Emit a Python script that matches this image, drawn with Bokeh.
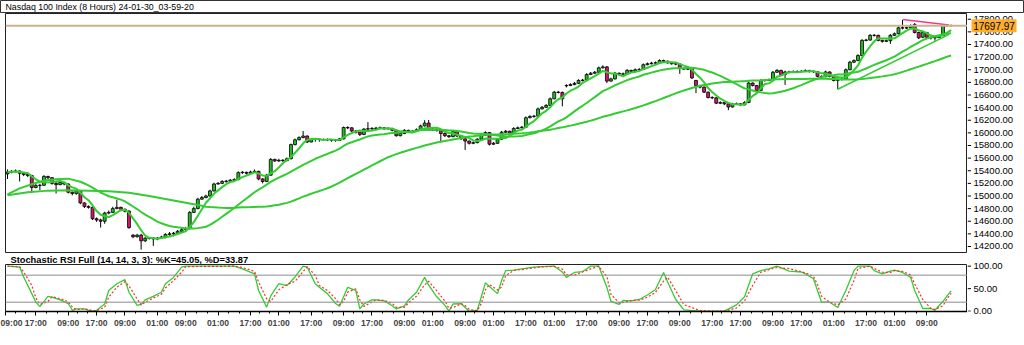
import pandas as pd
from bokeh.plotting import figure
from bokeh.layouts import column, row
from bokeh.models import (ColumnDataSource, FixedTicker, NumeralTickFormatter,
                          Span, Range1d)
from bokeh.core.properties import value
from bokeh.embed import file_html
from bokeh.resources import INLINE

# ---------------- data ----------------
chart_title = "Nasdaq 100 Index (8 Hours) 24-01-30_03-59-20"
stoch_title = "Stochastic RSI Full (14, 14, 3, 3): %K=45.05, %D=33.87"
last_price = 17697.97

opens = [
    15350, 15380, 15390, 15395, 15360, 15340, 15325, 15135, 15165, 15170,
    15310, 15290, 15200, 15180, 15215, 15190, 15060, 15040, 15080, 14890,
    14835, 14820, 14640, 14620, 14600, 14730, 14740, 14800, 14820, 14790,
    14760, 14380, 14355, 14380, 14290, 14330, 14335, 14320, 14330, 14350,
    14390, 14400, 14410, 14440, 14465, 14485, 14740, 14800, 14950, 14975,
    15000, 15080, 15190, 15200, 15230, 15235, 15250, 15260, 15370, 15375,
    15360, 15380, 15390, 15270, 15230, 15330, 15580, 15555, 15565, 15560,
    15590, 15815, 15890, 15925, 15950, 15855, 15895, 15900, 15895, 15895,
    15890, 15885, 15880, 15905, 16085, 16080, 16030, 16010, 15975, 16060,
    16065, 16070, 16075, 16080, 16065, 16070, 16040, 15955, 15990, 16040,
    16020, 16025, 16050, 16110, 16155, 16040, 16060, 16040, 15990, 15955,
    15940, 16020, 15950, 15905, 15870, 15835, 15845, 15900, 15965, 16005,
    15820, 15835, 15900, 16010, 16025, 15995, 16070, 16080, 16090, 16240,
    16260, 16265, 16380, 16405, 16435, 16540, 16645, 16640, 16745, 16750,
    16765, 16785, 16830, 16835, 16925, 16945, 16960, 17030, 17045, 16820,
    16855, 16945, 16930, 16935, 16990, 16975, 17000, 17005, 17080, 17095,
    17105, 17110, 17145, 17135, 17110, 17095, 17090, 17020, 17010, 17015,
    16830, 16750, 16725, 16645, 16560, 16555, 16470, 16480, 16460, 16410,
    16455, 16460, 16445, 16480, 16790, 16750, 16670, 16830, 16830, 16840,
    16960, 16990, 16925, 16965, 16965, 16970, 16970, 16975, 16985, 16975,
    16970, 16895, 16890, 16965, 16895, 16830, 16845, 16850, 17000, 17120,
    17145, 17225, 17465, 17470, 17545, 17545, 17465, 17450, 17460, 17545,
    17570, 17665, 17660, 17665, 17715, 17590, 17515, 17590, 17515, 17505,
    17510, 17540, 17700, 17700,
]
highs = [
    15420, 15410, 15420, 15405, 15370, 15350, 15335, 15190, 15195, 15330,
    15320, 15300, 15230, 15240, 15225, 15200, 15070, 15100, 15090, 14900,
    14850, 14830, 14660, 14640, 14750, 14770, 14830, 14940, 14830, 14800,
    14775, 14395, 14400, 14400, 14350, 14350, 14345, 14350, 14370, 14410,
    14430, 14430, 14460, 14490, 14510, 14760, 14830, 14970, 15000, 15020,
    15100, 15210, 15220, 15250, 15255, 15270, 15280, 15390, 15395, 15385,
    15400, 15420, 15400, 15280, 15350, 15600, 15590, 15590, 15585, 15610,
    15830, 15910, 15945, 16030, 15960, 15910, 15915, 15910, 15910, 15910,
    15905, 15900, 15920, 16100, 16105, 16090, 16040, 16015, 16075, 16170,
    16090, 16095, 16100, 16090, 16090, 16080, 16050, 16005, 16060, 16050,
    16045, 16070, 16130, 16200, 16205, 16080, 16070, 16050, 16000, 15965,
    16040, 16030, 15960, 15915, 15880, 15865, 15915, 15985, 16025, 16015,
    15855, 15920, 16030, 16045, 16035, 16090, 16100, 16110, 16260, 16280,
    16285, 16400, 16425, 16455, 16560, 16665, 16665, 16655, 16770, 16785,
    16805, 16850, 16855, 16945, 16965, 16980, 17050, 17070, 17060, 16875,
    16965, 16955, 16955, 17010, 17000, 17020, 17025, 17100, 17115, 17125,
    17130, 17165, 17160, 17145, 17120, 17110, 17100, 17035, 17035, 17025,
    16840, 16760, 16735, 16655, 16580, 16565, 16500, 16490, 16470, 16475,
    16480, 16470, 16500, 16810, 16800, 16760, 16850, 16850, 16860, 16980,
    17010, 17000, 16985, 16985, 16990, 16990, 16995, 17005, 17000, 16990,
    16980, 16910, 16985, 16975, 16905, 16865, 16870, 17020, 17140, 17165,
    17245, 17485, 17490, 17565, 17565, 17555, 17475, 17480, 17565, 17590,
    17685, 17790, 17685, 17720, 17740, 17600, 17610, 17600, 17530, 17530,
    17545, 17720, 17720, 17715,
]
lows = [
    15270, 15360, 15370, 15230, 15315, 15300, 15050, 15120, 15090, 15160,
    15270, 15180, 15040, 15170, 15170, 15040, 15010, 15020, 14870, 14810,
    14800, 14620, 14590, 14500, 14560, 14710, 14730, 14790, 14770, 14740,
    14480, 14330, 14340, 14150, 14270, 14310, 14210, 14300, 14320, 14330,
    14370, 14360, 14400, 14430, 14455, 14470, 14730, 14790, 14940, 14965,
    14990, 15070, 15180, 15190, 15210, 15225, 15240, 15250, 15350, 15340,
    15350, 15370, 15250, 15200, 15220, 15320, 15540, 15540, 15540, 15550,
    15580, 15800, 15880, 15915, 15840, 15850, 15860, 15860, 15870, 15870,
    15860, 15860, 15870, 15895, 16060, 16010, 15990, 15950, 15965, 16045,
    16045, 16055, 16060, 16050, 16050, 16025, 15940, 15945, 15980, 16005,
    16005, 16015, 16040, 16100, 16030, 16035, 16020, 15860, 15935, 15920,
    15930, 15935, 15890, 15730, 15815, 15820, 15835, 15890, 15955, 15800,
    15810, 15825, 15890, 16000, 15980, 15985, 16060, 16070, 16080, 16230,
    16240, 16255, 16370, 16395, 16425, 16530, 16625, 16420, 16720, 16740,
    16755, 16775, 16815, 16825, 16915, 16935, 16950, 17020, 16790, 16810,
    16845, 16915, 16915, 16925, 16960, 16965, 16990, 16995, 17070, 17085,
    17090, 17100, 17120, 17095, 17080, 17070, 16935, 16995, 16995, 16855,
    16630, 16705, 16630, 16545, 16535, 16455, 16455, 16440, 16360, 16400,
    16440, 16425, 16435, 16470, 16735, 16655, 16660, 16810, 16820, 16830,
    16950, 16910, 16760, 16945, 16950, 16950, 16955, 16965, 16955, 16950,
    16880, 16870, 16880, 16880, 16815, 16690, 16830, 16840, 16990, 17105,
    17135, 17215, 17450, 17460, 17525, 17450, 17430, 17440, 17410, 17535,
    17560, 17640, 17645, 17655, 17575, 17485, 17500, 17495, 17480, 17460,
    17505, 17530, 17680, 17685,
]
closes = [
    15380, 15390, 15395, 15360, 15340, 15325, 15135, 15165, 15170, 15310,
    15290, 15200, 15180, 15215, 15190, 15060, 15040, 15080, 14890, 14835,
    14820, 14640, 14620, 14600, 14730, 14740, 14800, 14820, 14790, 14760,
    14500, 14355, 14380, 14290, 14330, 14335, 14320, 14330, 14350, 14390,
    14400, 14410, 14440, 14465, 14485, 14740, 14800, 14950, 14975, 15000,
    15080, 15190, 15200, 15230, 15235, 15250, 15260, 15370, 15375, 15360,
    15380, 15390, 15270, 15230, 15330, 15580, 15555, 15565, 15560, 15590,
    15815, 15890, 15925, 15950, 15855, 15895, 15900, 15895, 15895, 15890,
    15885, 15880, 15905, 16085, 16080, 16030, 16010, 15975, 16060, 16065,
    16070, 16075, 16080, 16065, 16070, 16040, 15955, 15990, 16040, 16020,
    16025, 16050, 16110, 16155, 16040, 16060, 16040, 15990, 15955, 15940,
    16020, 15950, 15905, 15870, 15835, 15845, 15900, 15965, 16005, 15820,
    15835, 15900, 16010, 16025, 15995, 16070, 16080, 16090, 16240, 16260,
    16265, 16380, 16405, 16435, 16540, 16645, 16640, 16540, 16750, 16765,
    16785, 16830, 16835, 16925, 16945, 16960, 17030, 17045, 16820, 16855,
    16945, 16930, 16935, 16990, 16975, 17000, 17005, 17080, 17095, 17105,
    17110, 17145, 17135, 17110, 17095, 17090, 17020, 17010, 17015, 16870,
    16750, 16725, 16645, 16560, 16555, 16470, 16480, 16460, 16410, 16455,
    16460, 16445, 16480, 16790, 16750, 16670, 16830, 16830, 16840, 16960,
    16990, 16925, 16965, 16965, 16970, 16970, 16975, 16985, 16975, 16970,
    16895, 16890, 16965, 16895, 16830, 16845, 16850, 17000, 17120, 17145,
    17225, 17465, 17470, 17545, 17545, 17465, 17450, 17460, 17545, 17570,
    17665, 17660, 17665, 17695, 17590, 17505, 17590, 17515, 17505, 17510,
    17525, 17700, 17700, 17698,
]

# moving-average values before enough history exists
ma20_head_idx = [0, 3, 6, 9, 12, 15, 18]
ma20_head_val = [15025, 15120, 15185, 15245, 15265, 15275, 15225]
ma50_head_idx = [0, 5, 10, 15, 20, 25, 30, 35, 40, 45, 48]
ma50_head_val = [15010, 15060, 15085, 15090, 15085, 15075, 15050, 15000, 14940, 14880, 14845]

# hand-drawn lines
trend_idx = [205, 232.5]
trend_val = [16690, 17560]
peak_idx = [221, 232.5]
peak_val = [17795, 17710]

# Stochastic RSI %K
k_idx = [0, 3, 4, 6, 7, 8, 10, 11, 13, 15, 16, 17, 19, 20, 21, 22, 24, 25, 27, 29,
         30, 32, 33, 34, 36, 38, 39, 41, 43, 44, 56, 58, 61, 62, 64, 65, 67, 69, 71, 73,
         74, 76, 77, 79, 81, 82, 83, 84, 86, 87, 88, 90, 91, 93, 95, 96, 98, 99, 101, 103,
         104, 106, 108, 109, 110, 112, 113, 114, 116, 117, 118, 119, 121, 122, 123, 125, 127, 130, 132, 135,
         137, 138, 140, 142, 144, 146, 148, 149, 151, 152, 154, 156, 158, 160, 162, 163, 165, 167, 171, 174,
         177, 180, 182, 184, 186, 188, 190, 193, 196, 197, 199, 200, 201, 203, 205, 207, 209, 210, 213, 214,
         216, 218, 219, 221, 223, 224, 226, 228, 229, 231, 232, 233]
k_val = [100, 98, 76, 39, 20, 10, 33, 31, 25, 17, 2, 5, 5, 2, 0, 2, 16, 46, 61, 70,
         42, 13, 15, 25, 33, 42, 61, 75, 98, 100, 100, 94, 83, 46, 9, 34, 61, 57, 76, 100,
         98, 61, 53, 39, 17, 11, 32, 53, 46, 5, 16, 25, 25, 23, 12, 5, 12, 25, 42, 75,
         58, 32, 13, 0, 16, 17, 8, 0, 2, 32, 63, 55, 39, 68, 90, 91, 94, 98, 99, 100,
         87, 75, 86, 88, 100, 100, 53, 22, 15, 24, 23, 26, 36, 48, 86, 65, 26, 3, 0, 0,
         0, 14, 32, 83, 90, 94, 100, 89, 87, 83, 72, 46, 20, 20, 8, 46, 90, 100, 100, 90,
         83, 89, 91, 86, 75, 46, 6, 6, 2, 22, 34, 45.05]

price_ticks = [14200, 14400, 14600, 14800, 15000, 15200, 15400, 15600, 15800, 16000,
               16200, 16400, 16600, 16800, 17000, 17200, 17400, 17600, 17800]
stoch_ticks = [0, 50, 100]
stoch_levels = [20, 80]
time_tick_idx = [-0.45, 7, 15, 22, 29, 37, 44, 52, 60, 67, 75, 83, 90, 98, 105, 113,
                 120, 128, 135, 143, 151, 158, 166, 174, 181, 189, 196, 204, 212, 219, 227]
time_tick_lbl = ["09:00", "17:00", "09:00", "17:00", "09:00", "01:00", "09:00", "01:00",
                 "17:00", "01:00", "17:00", "09:00", "17:00", "09:00", "01:00", "09:00",
                 "01:00", "17:00", "01:00", "17:00", "09:00", "17:00", "09:00", "17:00",
                 "17:00", "09:00", "17:00", "01:00", "17:00", "01:00", "09:00"]

# ---------------- styling ----------------
FONT = "Liberation Sans"
UP = "#22BB22"
DOWN = "#D4156A"
MA_GREEN = "#33CC33"
K_GREEN = "#33CC33"
D_RED = "#FF2A2A"
PINK = "#F5388A"
TAN = "#C9B48E"
MARK = "#FFAE2A"
MARK_HALF = 103          # half height of the price marker box, in price units (~6.5 px)


def scale_strip(width, height, y_range, ticks, top, bottom):
    """A narrow figure right of a panel frame that carries its value axis."""
    f = figure(width=width, height=height, x_range=Range1d(0, 50), y_range=y_range,
               output_backend="svg", toolbar_location=None,
               x_axis_location=None, y_axis_location="right",
               min_border_left=0, min_border_right=7, min_border_top=top,
               min_border_bottom=bottom, outline_line_color=None)
    f.grid.visible = False
    ax = f.yaxis[0]
    ax.ticker = FixedTicker(ticks=ticks)
    ax.formatter = NumeralTickFormatter(format="0.00")
    ax.major_label_text_font = FONT
    ax.major_label_text_font_size = "9.5px"
    ax.major_label_text_color = "black"
    ax.major_tick_out = 0
    ax.major_tick_in = 0
    ax.minor_tick_out = 0
    ax.minor_tick_in = 0
    ax.major_label_standoff = -44
    ax.axis_line_color = None
    f.segment(x0=[0] * len(ticks), y0=ticks, x1=[3.5] * len(ticks), y1=ticks,
              line_color="black", line_width=1)
    return f


n = len(closes)
idx = list(range(n))
xr = Range1d(-0.49, 237.04)
yr = Range1d(14089, 17891)
sr = Range1d(-0.7, 103.7)

# ---------- title strip ----------
tf = figure(width=1024, height=13, x_range=(0, 1024), y_range=(0, 13),
            output_backend="svg", toolbar_location=None,
            x_axis_location=None, y_axis_location=None, min_border=0,
            outline_line_color="#333333", outline_line_width=1)
tf.grid.visible = False
tf.text(x=[5], y=[6.5], text=[chart_title], text_font=value(FONT),
        text_font_size="8.8px", text_baseline="middle", text_align="left",
        text_color="black")

# ---------- main price panel (frame only) ----------
p = figure(width=967, height=240, x_range=xr, y_range=yr,
           output_backend="svg", toolbar_location=None,
           x_axis_location=None, y_axis_location=None,
           min_border_left=5, min_border_right=0, min_border_top=0, min_border_bottom=0,
           outline_line_color="#222222", outline_line_width=1)
p.grid.visible = False

p.add_layout(Span(location=last_price, dimension="width", line_color=TAN, line_width=2))

src = ColumnDataSource(dict(
    x=idx,
    top=[max(o, c) for o, c in zip(opens, closes)],
    bottom=[min(o, c) for o, c in zip(opens, closes)],
    hi=highs, lo=lows,
    color=[UP if c >= o else DOWN for o, c in zip(opens, closes)],
))
p.segment(x0="x", y0="hi", x1="x", y1="lo", source=src, line_color="black", line_width=1)
p.vbar(x="x", top="top", bottom="bottom", width=0.72, source=src,
       fill_color="color", line_color="black", line_width=0.8)

s = pd.Series(closes, dtype=float)
ma5 = s.rolling(5, min_periods=1).mean()
ma20 = s.rolling(20).mean()
ma50 = s.rolling(50).mean()
ma20_x = ma20_head_idx + list(range(19, n))
ma20_y = ma20_head_val + list(ma20[19:])
ma50_x = ma50_head_idx + list(range(49, n))
ma50_y = ma50_head_val + list(ma50[49:])

p.line(ma50_x, ma50_y, line_color=MA_GREEN, line_width=2)
p.line(ma20_x, ma20_y, line_color=MA_GREEN, line_width=2)
p.line(idx, list(ma5), line_color=MA_GREEN, line_width=2)
p.line(trend_idx, trend_val, line_color=MA_GREEN, line_width=1.6)
p.line(peak_idx, peak_val, line_color=PINK, line_width=1.6)

# ---------- price scale strip with the last-price marker ----------
a = scale_strip(57, 240, yr, price_ticks, 0, 0)
qd = a.quad(left=[4], right=[49], bottom=[last_price - MARK_HALF],
            top=[last_price + MARK_HALF], fill_color=MARK, line_color=None)
qd.level = "overlay"
tx = a.text(x=[26.5], y=[last_price], text=[f"{last_price:.2f}"], text_font=value(FONT),
            text_font_size="10px", text_color="black", text_align="center",
            text_baseline="middle")
tx.level = "overlay"

# ---------- stochastic title strip ----------
sf = figure(width=967, height=11, x_range=(0, 967), y_range=(0, 11),
            output_backend="svg", toolbar_location=None,
            x_axis_location=None, y_axis_location=None, min_border=0,
            outline_line_color=None)
sf.grid.visible = False
sf.text(x=[5], y=[5.5], text=[stoch_title], text_font=value(FONT),
        text_font_size="9.3px", text_font_style="bold", text_baseline="middle",
        text_align="left", text_color="black")

# ---------- stochastic RSI panel ----------
q = figure(width=967, height=81, x_range=xr, y_range=sr,
           output_backend="svg", toolbar_location=None,
           x_axis_location="below", y_axis_location=None,
           min_border_left=5, min_border_right=0, min_border_top=0, min_border_bottom=34,
           outline_line_color="#222222", outline_line_width=1)
q.grid.visible = False
for lv in stoch_levels:
    q.add_layout(Span(location=lv, dimension="width", line_color="#8C8C8C", line_width=1))

k = pd.Series(k_val, dtype=float)
d = k.rolling(2, min_periods=1).mean()
q.line(k_idx, k_val, line_color=K_GREEN, line_width=1.3)
q.line(k_idx, list(d), line_color=D_RED, line_width=1.2, line_dash="2 2")

minor = []
for t0, t1 in zip(time_tick_idx[:-1], time_tick_idx[1:]):
    minor += [t0 + (t1 - t0) / 3.0, t0 + 2 * (t1 - t0) / 3.0]
qx = q.xaxis[0]
qx.ticker = FixedTicker(ticks=time_tick_idx, minor_ticks=minor)
qx.major_label_overrides = {t: l for t, l in zip(time_tick_idx, time_tick_lbl)}
qx.major_label_text_font = FONT
qx.major_label_text_font_style = "bold"
qx.major_label_text_font_size = "8.6px"
qx.major_tick_out = 4
qx.major_tick_in = 0
qx.minor_tick_out = 2
qx.minor_tick_in = 0
qx.major_label_standoff = 2
qx.axis_line_color = "black"
qx.axis_line_width = 1.5

# stochastic scale strip spans the title strip and the panel, so "100.00" is not cut
b = scale_strip(57, 92, sr, stoch_ticks, 11, 34)

layout = column(tf, row(p, a, spacing=0), row(column(sf, q, spacing=0), b, spacing=0),
                spacing=0)
open("out.html", "w").write(file_html(layout, INLINE))
